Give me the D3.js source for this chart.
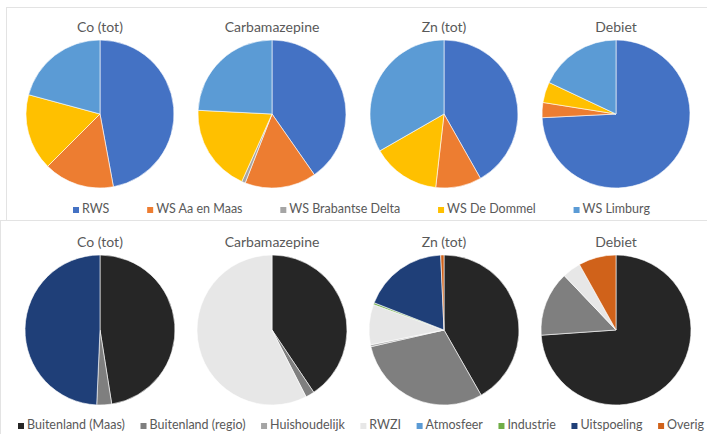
<!DOCTYPE html>
<html><head><meta charset="utf-8">
<script src="https://cdn.jsdelivr.net/npm/d3@7"></script>
<style>
html,body{margin:0;padding:0;background:#fff;overflow:hidden;}
svg{display:block;font-family:Lato,"Open Sans",sans-serif;}
</style></head>
<body><svg id="c" width="707" height="434"></svg>
<script>
// ---- data ----
const titles = ["Co (tot)", "Carbamazepine", "Zn (tot)", "Debiet"];

const topCategories = ["RWS", "WS Aa en Maas", "WS Brabantse Delta", "WS De Dommel", "WS Limburg"];
const topCo   = [47.1, 15.4, 0.0, 16.7, 20.8];
const topCarb = [40.3, 15.6, 0.8, 19.1, 24.2];
const topZn   = [41.8, 10.0, 0.0, 14.9, 33.3];
const topDeb  = [74.2, 3.3, 0.0, 4.5, 18.0];

const botCategories = ["Buitenland (Maas)", "Buitenland (regio)", "Huishoudelijk", "RWZI", "Atmosfeer", "Industrie", "Uitspoeling", "Overig"];
const botCo   = [47.5, 3.2, 0.0, 0.0, 0.0, 0.0, 49.3, 0.0];
const botCarb = [40.6, 1.9, 0.0, 57.5, 0.0, 0.0, 0.0, 0.0];
const botZn   = [41.8, 29.7, 0.4, 8.7, 0.0, 0.4, 18.4, 0.7];
const botDeb  = [73.9, 14.0, 0.0, 4.0, 0.0, 0.0, 0.0, 8.1];

// ---- styles ----
const topColors = ["#4472C4", "#ED7D31", "#A5A5A5", "#FFC000", "#5B9BD5"];
const botColors = ["#262626", "#7F7F7F", "#A5A5A5", "#E7E7E7", "#5B9BD5", "#70AD47", "#1F3F78", "#D0621A"];

const svg = d3.select("#c");
const textColor = "#595959";

// panel borders
svg.append("rect").attr("x", 6.5).attr("y", 7.5).attr("width", 720).attr("height", 213)
  .attr("fill", "none").attr("stroke", "#e3e3e3");
svg.append("rect").attr("x", 0.5).attr("y", 220.5).attr("width", 720).attr("height", 230)
  .attr("fill", "none").attr("stroke", "#e3e3e3");

const x = d3.scalePoint().domain(titles).range([100, 616]);
const pie = d3.pie().sort(null).value(d => d);

function drawRow(seriesList, colors, cy, r, titleY) {
  const g = svg.append("g");
  titles.forEach((t, i) => {
    const cx = x(t);
    g.append("text").attr("x", cx).attr("y", titleY).attr("text-anchor", "middle")
      .attr("font-size", 14).attr("fill", textColor).text(t);
    const arc = d3.arc().innerRadius(0).outerRadius(r);
    g.append("g").attr("transform", `translate(${cx},${cy})`)
      .selectAll("path").data(pie(seriesList[i])).join("path")
      .attr("d", arc).attr("fill", (d, j) => colors[j])
      .attr("stroke", "#fff").attr("stroke-width", d => d.value > 0 ? 0.6 : 0);
  });
}

function drawLegend(cats, colors, y, x0, x1) {
  const g = svg.append("g");
  const items = g.selectAll("g").data(cats).join("g");
  items.append("rect").attr("width", 6).attr("height", 6).attr("y", -5)
    .attr("fill", (d, i) => colors[i]);
  const texts = items.append("text").attr("x", 9).attr("y", 0).attr("dy", "0.05em")
    .attr("font-size", 12.5).attr("fill", textColor).text(d => d);
  const widths = texts.nodes().map(n => 9 + n.getComputedTextLength());
  const total = d3.sum(widths);
  const gap = (x1 - x0 - total) / (cats.length - 1);
  let cur = x0;
  items.attr("transform", (d, i) => {
    const t = `translate(${cur},${y})`;
    cur += widths[i] + gap;
    return t;
  });
}

drawRow([topCo, topCarb, topZn, topDeb], topColors, 114, 74, 32);
drawLegend(topCategories, topColors, 212, 73, 650);

drawRow([botCo, botCarb, botZn, botDeb], botColors, 330, 75, 247);
drawLegend(botCategories, botColors, 428, 18, 704);
</script>
</body></html>
